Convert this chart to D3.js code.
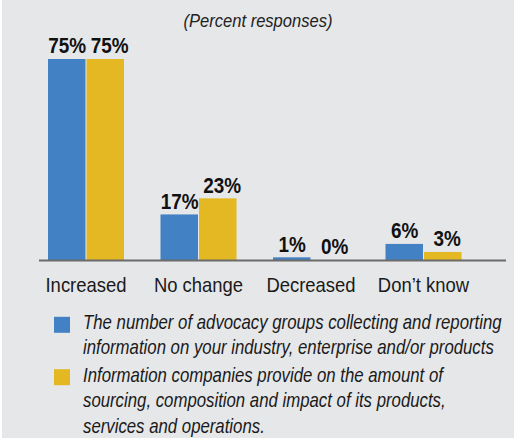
<!DOCTYPE html>
<html><head><meta charset="utf-8">
<script src="https://cdn.jsdelivr.net/npm/d3@7"></script>
<style>
html,body{margin:0;padding:0;background:#fff;}
svg{display:block;}
</style></head>
<body>
<svg id="chart" width="517" height="439"></svg>
<script>
const categories = ["Increased", "No change", "Decreased", "Don\u2019t know"];
const seriesNames = ["advocacy", "companies"];
const advocacyValues = [75, 17, 1, 6];
const companiesValues = [75, 23, 0, 3];
const legendLabels = [
  ["The number of advocacy groups collecting and reporting", "information on your industry, enterprise and/or products"],
  ["Information companies provide on the amount of", "sourcing, composition and impact of its products,", "services and operations."]
];
const colors = ["#4281c4", "#e3b822"];
const title = "(Percent responses)";

const FONT = "'Liberation Sans','Arial',sans-serif";
const svg = d3.select("#chart");
svg.append("rect").attr("x",2).attr("y",0).attr("width",512).attr("height",438).attr("fill","#e6e7e9");

// horizontal condensing (no condensed font available): scale glyphs in x only
function condense(sel, f){
  sel.each(function(){
    const x = +(this.getAttribute("x") || 0);
    d3.select(this).attr("x", x / f).attr("transform", `scale(${f},1)`);
  });
}
function fitWidth(sel, target){
  sel.each(function(){
    const w = this.getComputedTextLength();
    d3.select(this).call(condense, target / w);
  });
}

const baseY = 260;
const y = d3.scaleLinear().domain([0, 75]).range([baseY, 59]);
const x0 = d3.scaleBand().domain(categories).range([29.75, 479.75]).padding(0);
const x1 = d3.scaleBand().domain(seriesNames).range([18.25, 94.25]).paddingInner(0.027);
const labelDx = {advocacy: 0, companies: 4};

const data = categories.map((c,i)=>({cat:c, vals:[advocacyValues[i], companiesValues[i]]}));

svg.append("text").attr("x",258).attr("y",27).attr("text-anchor","middle")
  .attr("font-family",FONT).attr("font-style","italic").attr("font-size",17.5).attr("fill","#222").text(title)
  .call(fitWidth, 149);

const g = svg.selectAll("g.grp").data(data).join("g").attr("class","grp")
  .attr("transform", d=>`translate(${x0(d.cat)},0)`);
g.selectAll("rect").data(d=>d.vals.map((v,j)=>({v, s:seriesNames[j], j}))).join("rect")
  .attr("x", d=>x1(d.s)).attr("width", x1.bandwidth())
  .attr("y", d=>y(d.v)).attr("height", d=>baseY - y(d.v)).attr("fill", d=>colors[d.j]);
g.selectAll("text.val").data(d=>d.vals.map((v,j)=>({v, s:seriesNames[j], j}))).join("text").attr("class","val")
  .attr("x", d=>x1(d.s)+x1.bandwidth()/2+0.5+labelDx[d.s]).attr("y", d=>y(d.v)-5.5)
  .attr("text-anchor","middle").attr("font-family",FONT).attr("font-weight","bold").attr("font-size",22)
  .attr("fill","#111").text(d=>d.v+"%").call(condense, 0.86);

// axis baseline
svg.append("line").attr("x1",39).attr("x2",506).attr("y1",baseY+0.5).attr("y2",baseY+0.5)
  .attr("stroke","#6b6b6b").attr("stroke-width",2);

const xAxis = d3.axisBottom(x0).tickSize(0).tickPadding(0);
const ax = svg.append("g").attr("transform",`translate(0,${baseY})`).call(xAxis);
ax.select(".domain").remove();
ax.selectAll("text").attr("font-family",FONT).attr("font-size",20.5).attr("fill","#1a1a1a")
  .attr("dy",null).attr("y",32).call(condense, 0.9);

// legend
const legY = [[329.3, 354.3],[381.7, 407.2, 432.7]];
const legTexts = [];
legendLabels.forEach((lines,i)=>{
  svg.append("rect").attr("x",54).attr("y",legY[i][0]-12.5).attr("width",16).attr("height",16).attr("fill",colors[i]);
  lines.forEach((t,k)=>{
    legTexts.push(svg.append("text").attr("x",83).attr("y",legY[i][k]).attr("font-family",FONT).attr("font-style","italic")
      .attr("font-size",20.5).attr("fill","#1a1a1a").text(t).node());
  });
});
const legF = 419 / legTexts[0].getComputedTextLength();
d3.selectAll(legTexts).call(condense, legF);
</script>
</body></html>
